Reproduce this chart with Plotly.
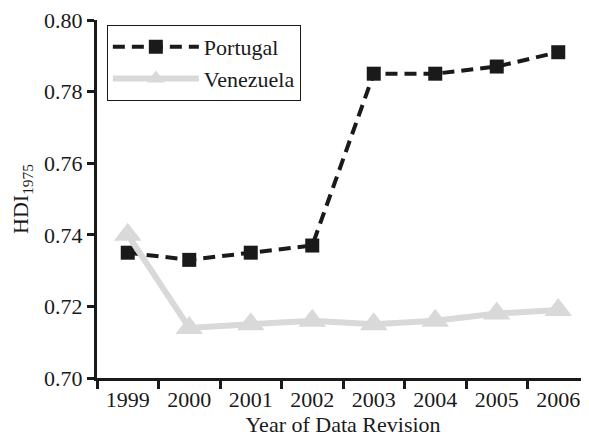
import plotly.graph_objects as go

years = ["1999", "2000", "2001", "2002", "2003", "2004", "2005", "2006"]
portugal = [0.735, 0.733, 0.735, 0.737, 0.785, 0.785, 0.787, 0.791]
venezuela = [0.740, 0.714, 0.715, 0.716, 0.715, 0.716, 0.718, 0.719]
y_ticks = [0.70, 0.72, 0.74, 0.76, 0.78, 0.80]

FONT = "Liberation Serif"
FS = 22

fig = go.Figure()
fig.add_trace(go.Scatter(
    x=years, y=portugal, name="Portugal", mode="lines+markers",
    line=dict(color="#1a1a1a", width=4, dash="12px,7px"),
    marker=dict(symbol="square", size=14, color="#1a1a1a"),
))
fig.add_trace(go.Scatter(
    x=years, y=venezuela, name="Venezuela", mode="lines+markers",
    line=dict(color="#d9d9d9", width=6),
    marker=dict(symbol="triangle-up", size=24, color="#d9d9d9"),
))

# page has an 8px body margin, so the figure is 8px smaller and shifted
fig.update_layout(
    width=581, height=434,
    margin=dict(l=89, r=0, t=12, b=64),
    paper_bgcolor="white", plot_bgcolor="white",
    font=dict(family=FONT, size=FS, color="#1a1a1a"),
    showlegend=True,
    legend=dict(
        x=0.02, y=0.986, xanchor="left", yanchor="top",
        bordercolor="#1a1a1a", borderwidth=1, bgcolor="white",
        font=dict(family=FONT, size=FS, color="#1a1a1a"),
        itemwidth=86, tracegroupgap=0,
    ),
    xaxis=dict(
        type="category", range=[-0.5, 7.5], automargin=False,
        tickson="boundaries", ticks="outside", ticklen=8, tickwidth=3,
        tickcolor="#1a1a1a",
        showline=True, linecolor="#1a1a1a", linewidth=3,
        showgrid=False, zeroline=False,
        title=dict(text="Year of Data Revision", standoff=2,
                   font=dict(family=FONT, size=FS)),
        tickfont=dict(family=FONT, size=FS),
        ticklabeloverflow="allow",
    ),
    yaxis=dict(
        range=[0.70, 0.80], tickvals=y_ticks, automargin=False,
        ticktext=[f"{v:.2f}" for v in y_ticks],
        ticks="outside", ticklen=7, tickwidth=3, tickcolor="#1a1a1a",
        showline=True, linecolor="#1a1a1a", linewidth=3,
        showgrid=False, zeroline=False,
        title=dict(text="HDI<sub>1975</sub>", standoff=10,
                   font=dict(family=FONT, size=FS)),
        tickfont=dict(family=FONT, size=FS),
        ticklabeloverflow="allow",
    ),
)

fig.write_html("out.html")
